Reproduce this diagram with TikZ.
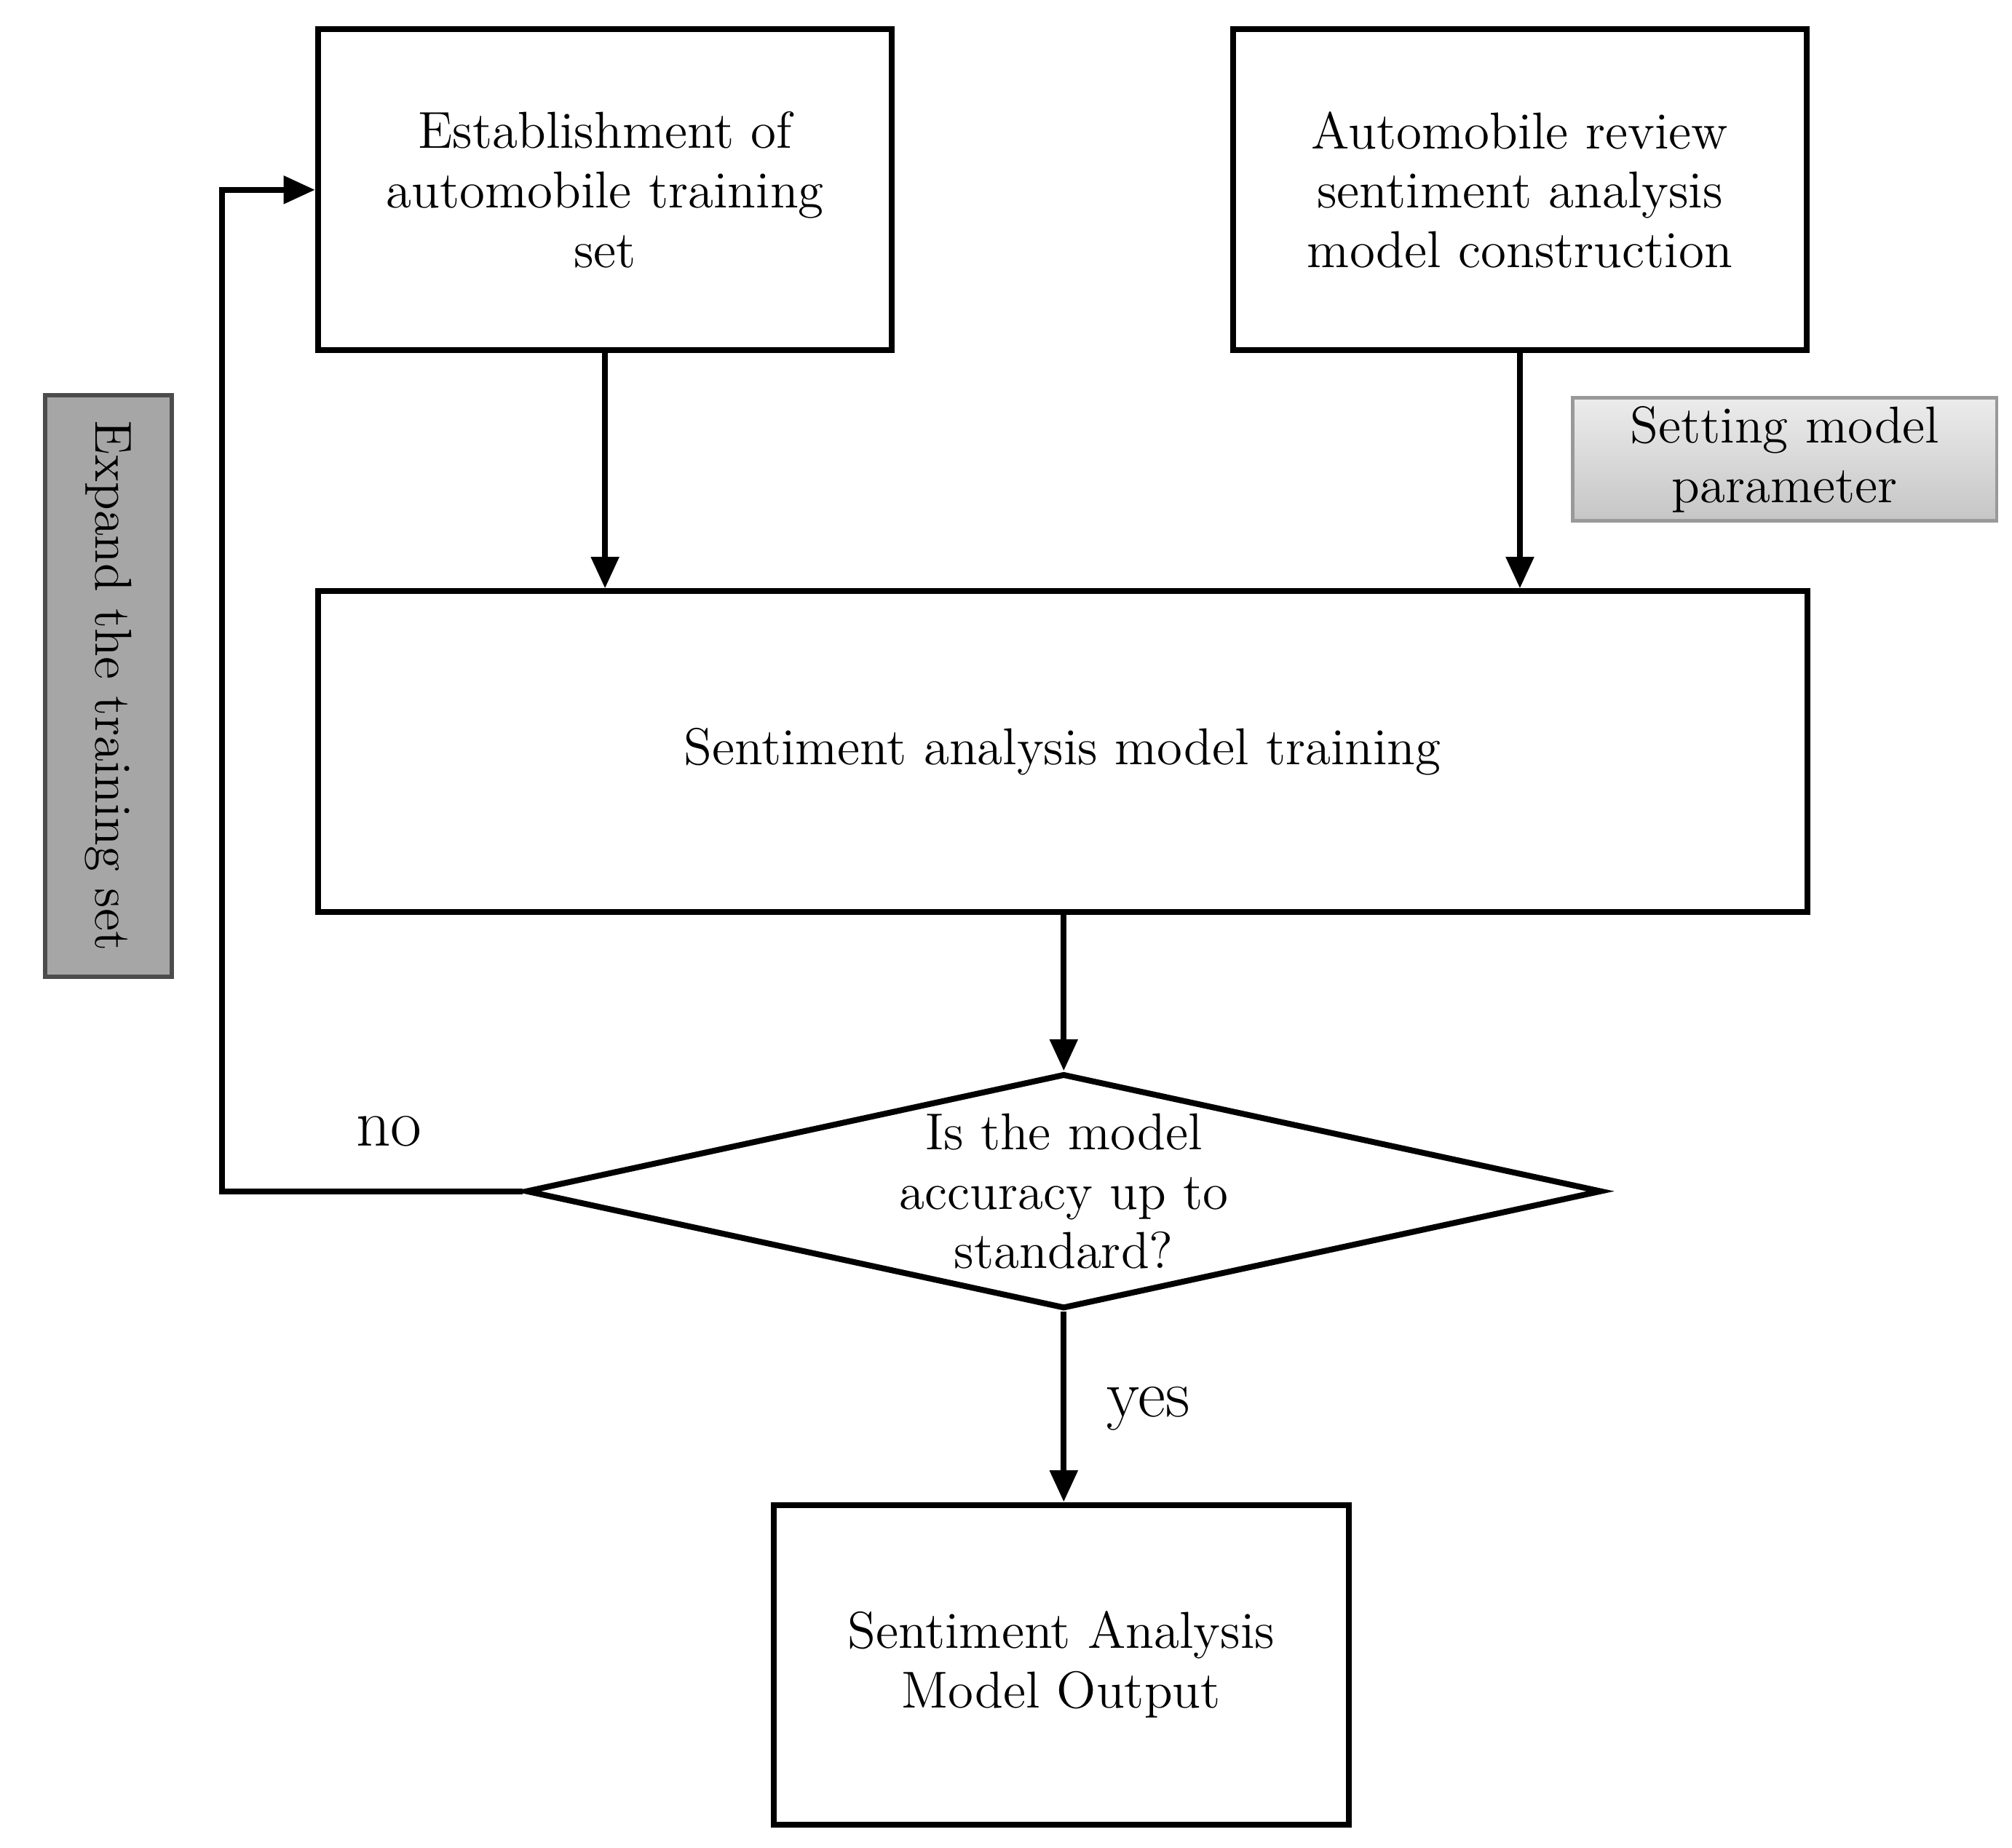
\documentclass[tikz,border=0pt]{standalone}
\usetikzlibrary{shapes.geometric,arrows.meta}
\begin{document}
\begin{tikzpicture}[x=0.01cm,y=0.01cm,
  box/.style={draw,line width=1.3pt,align=center,inner sep=0pt,font=\fontsize{11.5}{13.2}\selectfont},
  arr/.style={line width=1.3pt,-{Triangle[length=7pt,width=6pt]}},
  lbl/.style={font=\fontsize{15}{18}\selectfont}]
\useasboundingbox (0,0) rectangle (1568,1440);
\node[box,minimum width=4.47cm,minimum height=2.5cm] (A) at (471.5,1292) {Establishment of\\automobile training\\set};
\node[box,minimum width=4.47cm,minimum height=2.5cm] (B) at (1184.5,1292) {Automobile review\\sentiment analysis\\model construction};
\node[box,draw=gray!80,line width=0.8pt,top color=gray!15,bottom color=gray!45,minimum width=3.3cm,minimum height=0.96cm] (P) at (1391,1082) {Setting model\\parameter};
\node[box,draw=gray!60!black,line width=1pt,fill=gray!70,minimum width=0.99cm,minimum height=4.53cm] (E) at (84.5,905.5) {};
\node[rotate=-90,font=\fontsize{11.5}{13.2}\selectfont] (Et) at (E.center) {Expand the training set};
\node[box,minimum width=11.6cm,minimum height=2.5cm] (T) at (828,854) {Sentiment analysis model training};
\node[box,diamond,aspect=4.58,minimum width=8.38cm,minimum height=1.83cm] (D) at (829,511.5) {Is the model\\accuracy up to\\standard?};
\node[box,minimum width=4.48cm,minimum height=2.49cm] (O) at (827,142.5) {Sentiment Analysis\\Model Output};
\draw[arr] (A.south) -- (T.north -| A.south);
\draw[arr] (B.south) -- (T.north -| B.south);
\draw[arr] (T.south -| D.north) -- (D.north);
\draw[arr] (D.south) -- (O.north -| D.south);
\coordinate (c1) at (173,511.5);
\coordinate (c2) at (173,1292);
\draw[arr] (D.west) -- (c1) -- (c2) -- (A.west);
\node[lbl] (no) at (303,558) {no};
\node[lbl] (yes) at (895,342) {yes};
\end{tikzpicture}
\end{document}
